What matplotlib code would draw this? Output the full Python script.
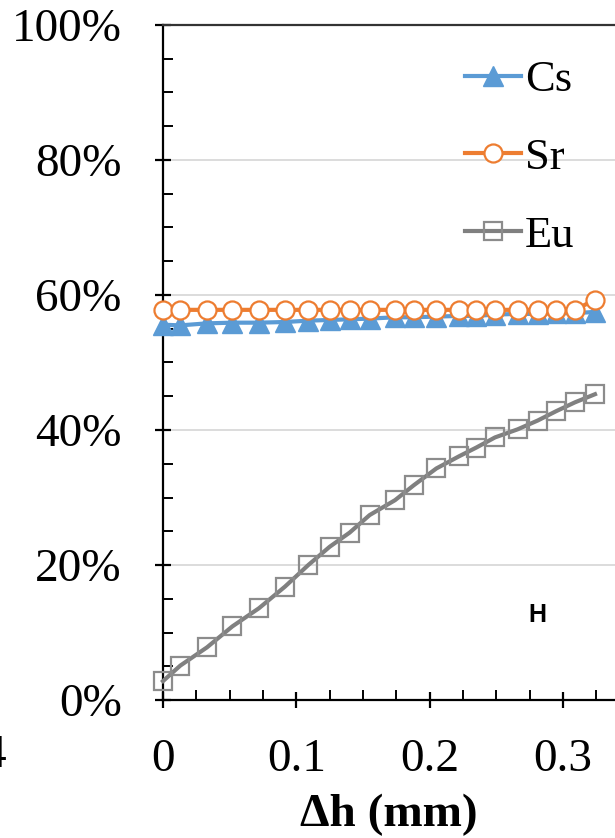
import matplotlib
matplotlib.use("Agg")
import matplotlib.pyplot as plt
from matplotlib.ticker import MultipleLocator, PercentFormatter

# ---- data ----
dh_mm = [0.0, 0.013, 0.033, 0.052, 0.072, 0.0915, 0.109, 0.125, 0.140, 0.155,
         0.174, 0.188, 0.205, 0.222, 0.235, 0.249, 0.266, 0.281, 0.295, 0.309, 0.324]
cs = [55.6, 55.5, 55.8, 55.9, 55.9, 56.0, 56.2, 56.3, 56.4, 56.5,
      56.7, 56.7, 56.8, 56.9, 56.9, 57.1, 57.2, 57.2, 57.3, 57.3, 57.5]
sr = [57.8, 57.8, 57.8, 57.8, 57.8, 57.8, 57.8, 57.8, 57.8, 57.8,
      57.8, 57.8, 57.8, 57.8, 57.8, 57.8, 57.8, 57.8, 57.8, 57.8, 59.3]
eu = [2.8, 5.1, 7.8, 10.9, 13.6, 16.8, 20.0, 22.7, 24.8, 27.4,
      29.6, 31.8, 34.3, 36.1, 37.4, 38.9, 40.1, 41.4, 42.8, 44.1, 45.3]
series_names = ["Cs", "Sr", "Eu"]
panel_label = "H"
xlabel = "\u0394h (mm)"

W, H = 615, 838
fig = plt.figure(figsize=(W / 100, H / 100), dpi=100)
serif = ["Liberation Serif", "DejaVu Serif"]
plt.rcParams["font.family"] = serif

x0, x1 = 163, 615
y0, y1 = 25, 700
ax = fig.add_axes([x0 / W, 1 - y1 / H, (x1 - x0) / W, (y1 - y0) / H])

px_per_mm = 1333.3
ax.set_xlim(0, (x1 - x0) / px_per_mm)
ax.set_ylim(0, 100)

blue = "#5B9BD5"
orange = "#ED7D31"
gray_line = "#808080"
gray_mk = "#8C8C8C"

ax.plot(dh_mm, cs, color=blue, lw=3.0, marker="^", ms=15, mfc=blue, mec=blue,
        label=series_names[0], zorder=3, clip_on=False)
ax.plot(dh_mm, sr, color=orange, lw=3.0, marker="o", ms=13, mfc="white", mec=orange,
        mew=1.6, label=series_names[1], zorder=4, clip_on=False)
ax.plot(dh_mm, eu, color=gray_line, lw=3.0, marker="s", ms=13, mfc="none", mec=gray_mk,
        mew=1.6, label=series_names[2], zorder=5, clip_on=False)

ax.yaxis.set_major_locator(MultipleLocator(20))
ax.yaxis.set_minor_locator(MultipleLocator(5))
ax.xaxis.set_major_locator(MultipleLocator(0.1))
ax.xaxis.set_minor_locator(MultipleLocator(0.025))
ax.yaxis.set_major_formatter(PercentFormatter(decimals=0))
ax.xaxis.set_major_formatter(matplotlib.ticker.FuncFormatter(
    lambda v, p: "0" if abs(v) < 1e-9 else f"{v:.1f}"))
ax.grid(axis="y", which="major", color="#D9D9D9", lw=1.3, zorder=0)
ax.set_axisbelow(True)

ax.spines["right"].set_visible(False)
ax.spines["top"].set_color("#333333")
ax.spines["top"].set_linewidth(1.6)
ax.spines["left"].set_linewidth(1.6)
ax.spines["bottom"].set_linewidth(1.6)

ax.tick_params(which="major", direction="inout", length=11.5, width=1.6,
               labelsize=34, colors="black")
ax.tick_params(which="minor", direction="in", length=7, width=1.4)
ax.tick_params(axis="y", which="major", pad=24)
ax.tick_params(axis="x", which="major", pad=22)

ax.set_xlabel(xlabel, fontsize=34, fontweight="bold", labelpad=9)

leg = ax.legend(loc="upper left", bbox_to_anchor=(465 / W, 1 - 60 / H),
                bbox_transform=fig.transFigure, frameon=False, fontsize=32,
                handlelength=1.25, handletextpad=0.1, labelspacing=0.85,
                borderaxespad=0, borderpad=0)

fig.text(537 / W, 1 - 615 / H, panel_label, family=["Liberation Sans", "DejaVu Sans"],
         fontweight="bold", fontsize=18, ha="center", va="center")

# partial tick label from neighbouring panel (cut at the left edge, as in the source)
fig.text(6 / W, 1 - 756 / H, "4", fontsize=34, ha="right", va="center")

fig.savefig("out.png", dpi=100)
